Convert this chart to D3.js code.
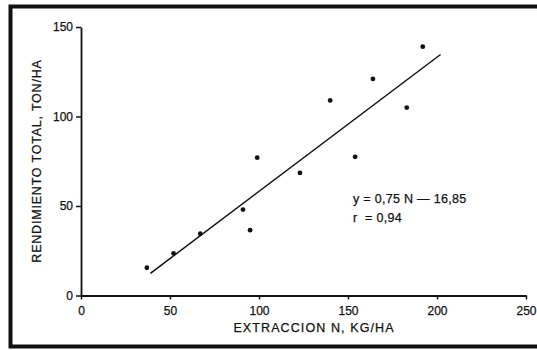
<!DOCTYPE html>
<html>
<head>
<meta charset="utf-8">
<script src="https://cdn.jsdelivr.net/npm/d3@7"></script>
<style>
  html, body { margin: 0; padding: 0; background: #fff; }
  svg { display: block; }
  text { font-family: "Liberation Sans", Arial, Helvetica, sans-serif; fill: #111; stroke: #111; stroke-width: 0.25px; }
</style>
</head>
<body>
<svg id="chart" width="537" height="350"></svg>
<script>
// Extracción de N (kg/ha) y rendimiento total (ton/ha)
const extraccionN = [37, 52, 67, 91, 95, 99, 123, 140, 154, 164, 183, 192];
const rendimiento = [15.5, 23.5, 34.5, 48, 36.5, 77, 68.5, 109, 77.5, 121, 105, 139];

// Recta de regresión y = 0,75 N − 16,85 (r = 0,94)
const pendiente = 0.75;
const ordenada = -16.85;
const rangoRecta = [39, 202];

const xTicks = [0, 50, 100, 150, 200, 250];
const yTicks = [0, 50, 100, 150];

const xTitle = "EXTRACCION N, KG/HA";
const yTitle = "RENDIMIENTO TOTAL, TON/HA";
const ecuacion = ["y = 0,75 N \u2014 16,85", "r  = 0,94"];

const svg = d3.select("#chart");

// Marco exterior (el borde derecho queda fuera del área visible)
svg.append("rect")
  .attr("x", 10.5).attr("y", 6.5)
  .attr("width", 540).attr("height", 340)
  .attr("fill", "none").attr("stroke", "#111").attr("stroke-width", 4);

const x = d3.scaleLinear().domain([0, 250]).range([81, 526]);
const y = d3.scaleLinear().domain([0, 150]).range([295.5, 27]);

// Eje X
const gx = svg.append("g").attr("transform", `translate(0,${y(0)})`)
  .call(d3.axisBottom(x).tickValues(xTicks).tickSize(4).tickSizeOuter(0).tickPadding(7));
// Eje Y
const gy = svg.append("g").attr("transform", `translate(${x(0)},0)`)
  .call(d3.axisLeft(y).tickValues(yTicks).tickSize(5).tickSizeOuter(0).tickPadding(3));

[gx, gy].forEach(g => {
  g.selectAll(".domain").attr("stroke", "#111").attr("stroke-width", 1.8);
  g.selectAll(".tick line").attr("stroke", "#111").attr("stroke-width", 1.5);
  g.selectAll(".tick text").attr("font-size", 12).attr("fill", "#111")
    .style("font-family", "'Liberation Sans', Arial, sans-serif");
});

// Recta de regresión
const recta = rangoRecta.map(n => [n, pendiente * n + ordenada]);
svg.append("path")
  .attr("d", d3.line().x(d => x(d[0])).y(d => y(d[1]))(recta))
  .attr("fill", "none").attr("stroke", "#111").attr("stroke-width", 1.5);

// Puntos observados
svg.append("g").selectAll("circle")
  .data(extraccionN.map((n, i) => [n, rendimiento[i]]))
  .join("circle")
  .attr("cx", d => x(d[0])).attr("cy", d => y(d[1]))
  .attr("r", 2.4).attr("fill", "#111");

// Ecuación
svg.append("text").attr("x", 353).attr("y", 203)
  .attr("font-size", 12.5).attr("letter-spacing", 0.3).text(ecuacion[0]);
svg.append("text").attr("x", 353).attr("y", 222)
  .attr("font-size", 12.5).attr("letter-spacing", 0.3).attr("xml:space", "preserve")
  .style("white-space", "pre").text(ecuacion[1]);

// Títulos de ejes
svg.append("text").attr("x", 314).attr("y", 332)
  .attr("text-anchor", "middle").attr("font-size", 12.5).attr("letter-spacing", 1.1)
  .text(xTitle);
svg.append("text")
  .attr("transform", "translate(40.5,161) rotate(-90)")
  .attr("text-anchor", "middle").attr("font-size", 12.5).attr("letter-spacing", 0.8)
  .text(yTitle);
</script>
</body>
</html>
